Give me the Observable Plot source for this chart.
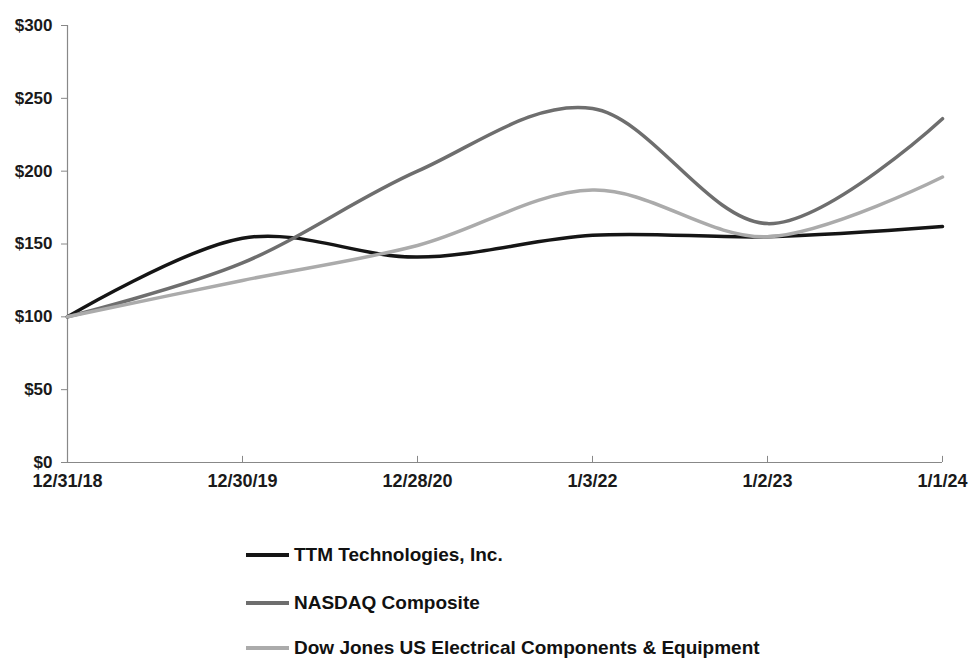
<!DOCTYPE html>
<html>
<head>
<meta charset="utf-8">
<script src="https://cdn.jsdelivr.net/npm/d3@7"></script>
<script src="https://cdn.jsdelivr.net/npm/@observablehq/plot@0.6"></script>
<style>
  html, body { margin: 0; padding: 0; background: #fff; }
  #wrap { position: relative; width: 970px; height: 658px; overflow: hidden; font-family: "Liberation Sans", Arial, sans-serif; }
  #chart { position: absolute; left: 0; top: 0; }
  .leg { position: absolute; left: 246px; display: flex; align-items: center; font-weight: bold; font-size: 19px; color: #111; white-space: nowrap; }
  .leg .sw { width: 43px; height: 4px; margin-right: 5px; }
</style>
</head>
<body>
<div id="wrap">
  <div id="chart"></div>
  <div id="legend"></div>
</div>
<script>
const dates = ["12/31/18", "12/30/19", "12/28/20", "1/3/22", "1/2/23", "1/1/24"];
const seriesNames = ["TTM Technologies, Inc.", "NASDAQ Composite", "Dow Jones US Electrical Components & Equipment"];
const ttm = [100, 154, 141, 156, 155, 162];
const nasdaq = [100, 137, 200, 243, 164, 236];
const dowJones = [100, 125, 149, 187, 155, 196];
const yTicks = [0, 50, 100, 150, 200, 250, 300];
const colors = ["#151515", "#6e6e6e", "#ababab"];

const allSeries = [ttm, nasdaq, dowJones];
const rows = [];
allSeries.forEach((vals, s) => vals.forEach((v, i) => rows.push({series: seriesNames[s], date: dates[i], value: v})));

const font = '"Liberation Sans", Arial, sans-serif';

const chart = Plot.plot({
  width: 970,
  height: 500,
  marginLeft: 67,
  marginRight: 28,
  marginTop: 25,
  marginBottom: 38,
  style: { fontFamily: font, background: "#fff", overflow: "visible" },
  x: { type: "point", domain: dates, padding: 0 },
  y: { domain: [0, 300] },
  color: { domain: seriesNames, range: colors },
  marks: [
    Plot.axisY({ ticks: yTicks, tickFormat: d => "$" + d, tickSize: 6, tickPadding: 9, fontSize: 17, fontWeight: "bold", color: "#1a1a1a", stroke: "#888", label: null }),
    Plot.axisX({ tickSize: 0, tickPadding: 12, fontSize: 18, fontWeight: "bold", color: "#1a1a1a", label: null }),
    Plot.ruleX(dates.slice(1), { x: d => d, y1: 0, y2: 4.2, stroke: "#888", strokeWidth: 1 }),
    Plot.ruleY([0], { stroke: "#888", strokeWidth: 1.2 }),
    Plot.ruleX([dates[0]], { y1: 0, y2: 300, stroke: "#888", strokeWidth: 1.2 }),
    Plot.line(rows, { x: "date", y: "value", z: "series", stroke: "series", strokeWidth: 3.5, curve: "cardinal", tension: 0 })
  ]
});
document.getElementById("chart").appendChild(chart);

const legend = document.getElementById("legend");
const legendTops = [555, 603, 648];
seriesNames.forEach((name, i) => {
  const row = document.createElement("div");
  row.className = "leg";
  row.style.top = (legendTops[i] - 12) + "px";
  row.style.height = "24px";
  const sw = document.createElement("div");
  sw.className = "sw";
  sw.style.background = colors[i];
  const t = document.createElement("span");
  t.textContent = name;
  row.appendChild(sw);
  row.appendChild(t);
  legend.appendChild(row);
});
</script>
</body>
</html>
